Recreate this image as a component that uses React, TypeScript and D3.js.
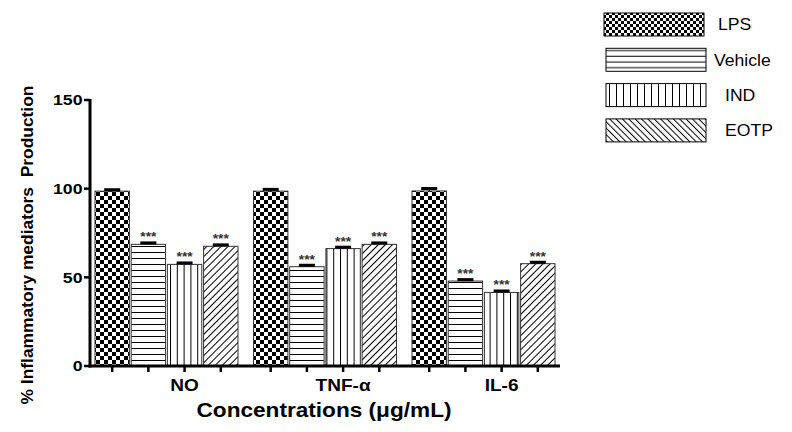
import React from 'react';
import * as d3 from 'd3';

const groups = ['NO', 'TNF-\u03b1', 'IL-6'];
const series = ['LPS', 'Vehicle', 'IND', 'EOTP'];
// mean values per group, one array per series
const lpsValues = [98.6, 98.6, 98.7];
const vehicleValues = [68.6, 56.0, 47.9];
const indValues = [57.3, 66.2, 41.5];
const eotpValues = [67.5, 68.6, 57.7];
const lpsErrors = [0.8, 1.0, 1.4];
const vehicleErrors = [0.8, 0.8, 0.8];
const indErrors = [0.8, 0.8, 0.8];
const eotpErrors = [0.8, 0.8, 0.8];
const significance = ['', '***', '***', '***'];
const yTicks = [0, 50, 100, 150];

const valuesBySeries = [lpsValues, vehicleValues, indValues, eotpValues];
const errorsBySeries = [lpsErrors, vehicleErrors, indErrors, eotpErrors];

const width = 792;
const height = 432;
const left = 90;
const right = 560;
const top = 100;
const bottom = 366;
const font = 'Arial, "Liberation Sans", Helvetica, sans-serif';

const barFill = ['url(#checker)', 'url(#hlines)', 'url(#vlines)', 'url(#diag)'];
const legendFill = ['url(#checkerL)', 'url(#hlinesL)', 'url(#vlinesL)', 'url(#diagL)'];
const legendLabelX = [718, 714, 725, 725];

// the original figure is a bit wider than tall, so text is stretched sideways
function WideText(props: {
  x: number;
  y: number;
  sx: number;
  size: number;
  anchor?: string;
  bold?: boolean;
  dy?: string;
  fill?: string;
  children: React.ReactNode;
}) {
  const { x, y, sx, size, anchor = 'start', bold = false, dy, fill = '#000', children } = props;
  return (
    <g transform={`translate(${x},${y}) scale(${sx},1)`}>
      <text
        textAnchor={anchor}
        dy={dy}
        fontFamily={font}
        fontSize={size}
        fontWeight={bold ? 'bold' : 'normal'}
        fill={fill}
      >
        {children}
      </text>
    </g>
  );
}

export default function App() {
  const x0 = d3.scaleBand<string>().domain(groups).range([left, right]).paddingInner(0.075).paddingOuter(0.02);
  const x1 = d3.scaleBand<string>().domain(series).range([0, x0.bandwidth()]).padding(0.05);
  const y = d3.scaleLinear().domain([0, 150]).range([bottom, top]);

  const rows = groups.flatMap((g, gi) =>
    series.map((s, si) => ({
      g,
      s,
      si,
      value: valuesBySeries[si][gi],
      err: errorsBySeries[si][gi],
      x: (x0(g) ?? 0) + (x1(s) ?? 0),
    }))
  );
  const bw = x1.bandwidth();

  return (
    <svg width={width} height={height} style={{ position: 'absolute', left: 0, top: 0, background: '#fff' }}>
      <defs>
        <pattern id="checker" width={8} height={8} patternUnits="userSpaceOnUse">
          <rect width={8} height={8} fill="#fff" />
          <rect width={4} height={4} fill="#000" />
          <rect x={4} y={4} width={4} height={4} fill="#000" />
        </pattern>
        <pattern id="hlines" width={8} height={6} patternUnits="userSpaceOnUse">
          <rect width={8} height={6} fill="#fff" />
          <line x1={0} x2={8} y1={0.5} y2={0.5} stroke="#000" strokeWidth={1} />
        </pattern>
        <pattern id="vlines" width={6.8} height={8} patternUnits="userSpaceOnUse">
          <rect width={6.8} height={8} fill="#fff" />
          <line x1={0.5} x2={0.5} y1={0} y2={8} stroke="#000" strokeWidth={1} />
        </pattern>
        <pattern id="diag" width={5} height={5} patternUnits="userSpaceOnUse" patternTransform="rotate(45)">
          <rect width={5} height={5} fill="#fff" />
          <line x1={0.5} x2={0.5} y1={0} y2={5} stroke="#000" strokeWidth={1} />
        </pattern>
        <pattern id="checkerL" width={6} height={6} patternUnits="userSpaceOnUse">
          <rect width={6} height={6} fill="#fff" />
          <rect width={3} height={3} fill="#000" />
          <rect x={3} y={3} width={3} height={3} fill="#000" />
        </pattern>
        <pattern id="hlinesL" width={8} height={5.7} patternUnits="userSpaceOnUse">
          <rect width={8} height={5.7} fill="#fff" />
          <line x1={0} x2={8} y1={5} y2={5} stroke="#000" strokeWidth={1} />
        </pattern>
        <pattern id="vlinesL" width={7} height={8} patternUnits="userSpaceOnUse">
          <rect width={7} height={8} fill="#fff" />
          <line x1={0.5} x2={0.5} y1={0} y2={8} stroke="#000" strokeWidth={1} />
        </pattern>
        <pattern id="diagL" width={4.5} height={4.5} patternUnits="userSpaceOnUse" patternTransform="rotate(-45)">
          <rect width={4.5} height={4.5} fill="#fff" />
          <line x1={0.5} x2={0.5} y1={0} y2={4.5} stroke="#000" strokeWidth={1} />
        </pattern>
      </defs>

      {/* bars */}
      {rows.map((d, i) => (
        <rect
          key={i}
          x={d.x}
          y={y(d.value)}
          width={bw}
          height={bottom - y(d.value)}
          fill={barFill[d.si]}
          stroke="#333"
          strokeWidth={1}
        />
      ))}

      {/* error caps and stars */}
      {rows.map((d, i) => {
        const cx = d.x + bw / 2;
        const yt = y(d.value + d.err);
        return (
          <g key={'e' + i}>
            <line x1={cx} x2={cx} y1={y(d.value)} y2={yt} stroke="#000" strokeWidth={1.5} />
            <rect x={cx - 8} y={yt - 1.5} width={16} height={3} fill="#000" />
            {significance[d.si] && (
              <WideText x={cx} y={yt - 1.5} sx={1.15} size={12} anchor="middle" bold fill="#333">
                {significance[d.si]}
              </WideText>
            )}
          </g>
        );
      })}

      {/* y axis */}
      <line x1={left} x2={left} y1={top - 1} y2={bottom + 1.5} stroke="#000" strokeWidth={3} />
      {yTicks.map((t) => (
        <g key={t}>
          <line x1={left - 6} x2={left} y1={y(t)} y2={y(t)} stroke="#000" strokeWidth={2.5} />
          <WideText x={left - 7.5} y={y(t)} sx={1.18} size={15} anchor="end" bold dy="0.36em">
            {t}
          </WideText>
        </g>
      ))}

      {/* x axis */}
      <line x1={left - 1.5} x2={right} y1={bottom} y2={bottom} stroke="#000" strokeWidth={3} />
      {rows.map((d, i) => (
        <line key={'t' + i} x1={d.x + bw / 2} x2={d.x + bw / 2} y1={bottom} y2={bottom + 6} stroke="#000" strokeWidth={2.5} />
      ))}
      {groups.map((g) => (
        <WideText
          key={g}
          x={(x0(g) ?? 0) + (x1('IND') ?? 0) + bw / 2}
          y={391}
          sx={1.12}
          size={17}
          anchor="middle"
          bold
        >
          {g}
        </WideText>
      ))}
      <text
        x={324}
        y={417}
        textAnchor="middle"
        fontFamily={font}
        fontSize={19.5}
        fontWeight="bold"
        textLength={255}
        lengthAdjust="spacingAndGlyphs"
      >
        Concentrations ({'\u03bc'}g/mL)
      </text>
      <text
        transform={`translate(33,${245}) rotate(-90)`}
        textAnchor="middle"
        fontFamily={font}
        fontSize={17.4}
        fontWeight="bold"
        style={{ whiteSpace: 'pre' }}
      >
        {'% Inflammatory mediators  Production'}
      </text>

      {/* legend */}
      {series.map((s, i) => (
        <g key={s}>
          <rect x={604 + Math.min(i, 1) * 2} y={13 + i * 35.3} width={100} height={23} fill={legendFill[i]} stroke="#000" strokeWidth={1} />
          <WideText x={legendLabelX[i]} y={13 + i * 35.3 + 11.5} sx={1.1} size={16} dy="0.36em">
            {s}
          </WideText>
        </g>
      ))}
    </svg>
  );
}
